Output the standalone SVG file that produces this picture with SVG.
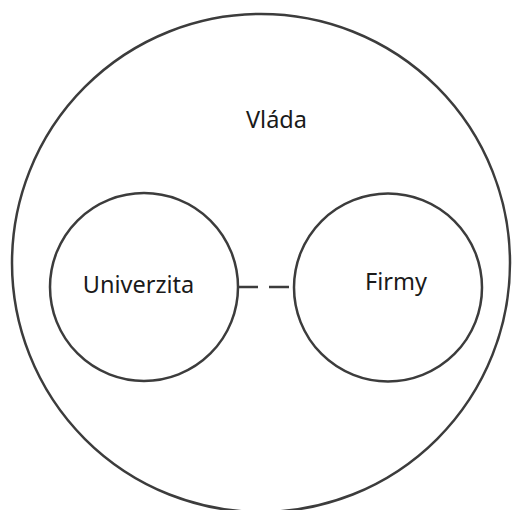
<svg xmlns="http://www.w3.org/2000/svg" width="512" height="510" viewBox="0 0 512 510">
<style>
.c{fill:none;stroke:#3c3c3c;stroke-width:2.5}
.t{font-family:"Noto Sans","Open Sans",sans-serif;font-size:23.5px;fill:#1a1a1a;text-anchor:middle}
.d{stroke:#3c3c3c;stroke-width:2.5;stroke-dasharray:20 11;fill:none}
</style>
<rect width="512" height="510" fill="#fff"/>
<g id="vlada">
<circle class="c" cx="261" cy="263" r="249"/>
<text class="t" x="276.5" y="128">Vláda</text>
</g>
<g id="univerzita">
<circle class="c" cx="144" cy="287" r="94"/>
<text class="t" x="138.5" y="293">Univerzita</text>
</g>
<g id="firmy">
<circle class="c" cx="388" cy="287.5" r="94"/>
<text class="t" x="396" y="290">Firmy</text>
</g>
<g id="connectors">
<line class="d" x1="238" y1="287" x2="290" y2="287"/>
</g>
</svg>
